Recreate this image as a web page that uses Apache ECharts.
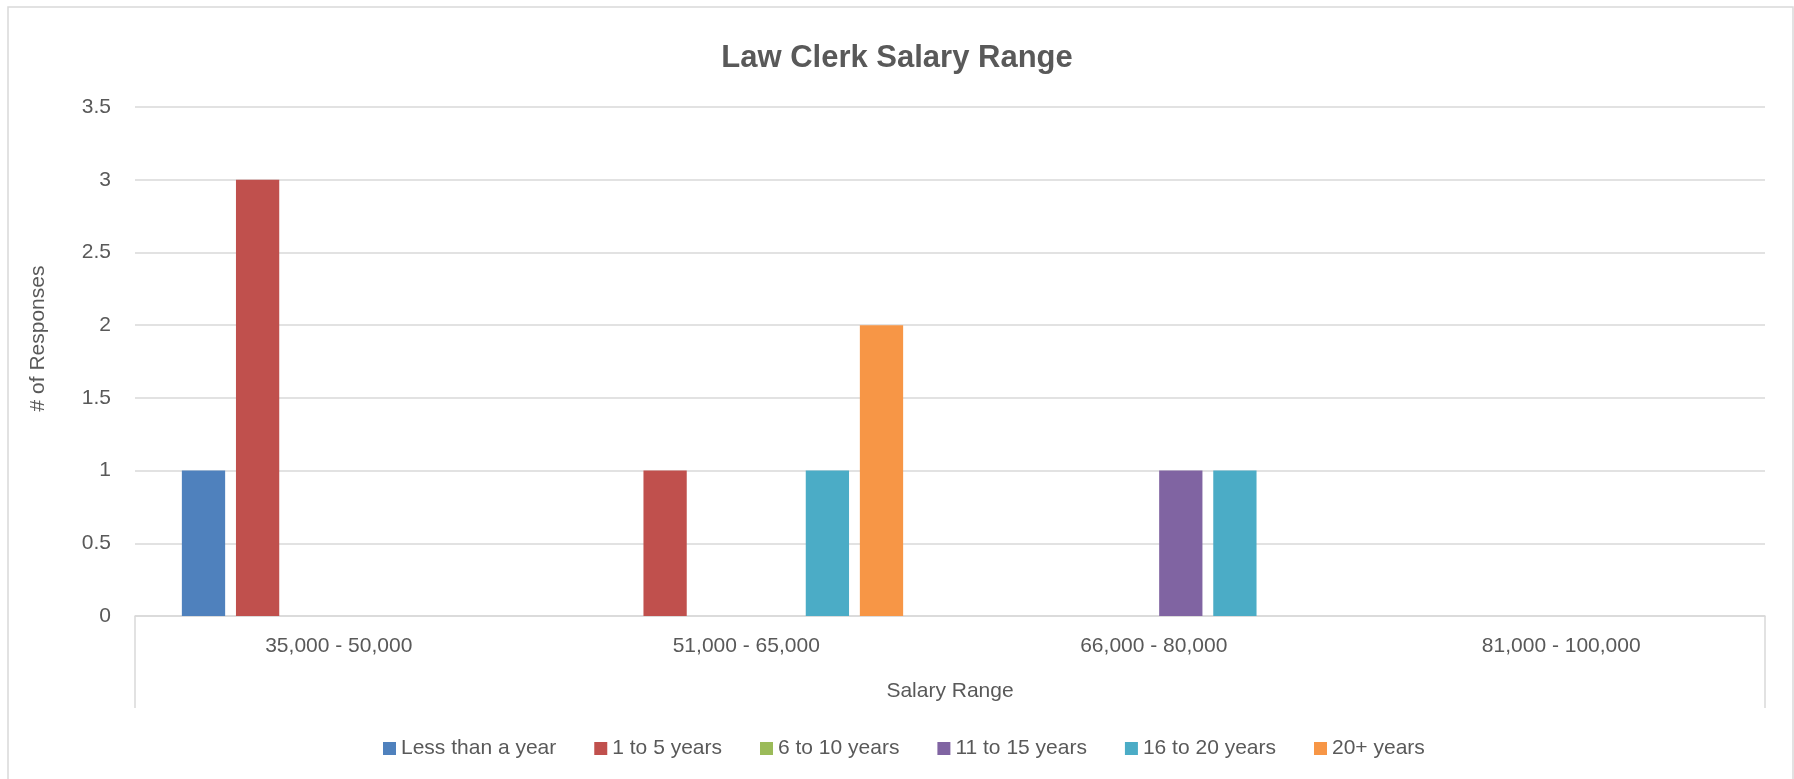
<!DOCTYPE html>
<html>
<head>
<meta charset="utf-8">
<script src="https://cdn.jsdelivr.net/npm/echarts@6/dist/echarts.min.js"></script>
<style>html,body{margin:0;padding:0;background:#fff;}#c{width:1794px;height:779px;}</style>
</head>
<body>
<div id="c"></div>
<script>
const categories = ['35,000 - 50,000', '51,000 - 65,000', '66,000 - 80,000', '81,000 - 100,000'];
const seriesNames = ['Less than a year', '1 to 5 years', '6 to 10 years', '11 to 15 years', '16 to 20 years', '20+ years'];
const lessThanYear = [1, 0, 0, 0];
const oneToFive = [3, 1, 0, 0];
const sixToTen = [0, 0, 0, 0];
const elevenToFifteen = [0, 0, 1, 0];
const sixteenToTwenty = [0, 1, 1, 0];
const twentyPlus = [0, 2, 0, 0];
const yTicks = [0, 0.5, 1, 1.5, 2, 2.5, 3, 3.5];

const seriesValues = [lessThanYear, oneToFive, sixToTen, elevenToFifteen, sixteenToTwenty, twentyPlus];
const colors = ['#4F81BD', '#C0504D', '#9BBB59', '#8064A2', '#4BACC6', '#F79646'];
const FONT = '"Liberation Sans", Arial, sans-serif';
const TXT = '#595959';

const chart = echarts.init(document.getElementById('c'), null, {renderer: 'canvas'});
chart.setOption({
  animation: false,
  backgroundColor: '#fff',
  color: colors,
  textStyle: {fontFamily: FONT},
  title: {
    text: 'Law Clerk Salary Range',
    left: 'center', top: 38,
    textStyle: {fontFamily: FONT, fontSize: 31, fontWeight: 'bold', color: TXT}
  },
  graphic: [{
    type: 'rect', silent: true,
    shape: {x: 8, y: 7, width: 1785, height: 800},
    style: {fill: 'none', stroke: '#d9d9d9', lineWidth: 1.5}
  }],
  grid: {left: 135, right: 29, top: 107, bottom: 163, containLabel: false},
  legend: {
    data: seriesNames,
    left: 378, top: 733,
    itemWidth: 13, itemHeight: 13, itemGap: 38,
    icon: 'rect',
    textStyle: {fontFamily: FONT, fontSize: 21, color: TXT}
  },
  xAxis: {
    type: 'category',
    data: categories,
    name: 'Salary Range',
    nameLocation: 'middle',
    nameGap: 65,
    nameTextStyle: {fontFamily: FONT, fontSize: 21, color: TXT},
    axisLine: {show: true, lineStyle: {color: '#d9d9d9', width: 1.5}},
    axisTick: {show: true, interval: function (i) { return i === 0; }, length: 92, lineStyle: {color: '#d9d9d9', width: 1.5}},
    axisLabel: {interval: 0, margin: 20, fontFamily: FONT, fontSize: 21, color: TXT},
    splitLine: {show: false}
  },
  yAxis: {
    type: 'value',
    min: yTicks[0], max: yTicks[yTicks.length - 1], interval: 0.5,
    name: '# of Responses',
    nameLocation: 'middle',
    nameGap: 86,
    nameTextStyle: {fontFamily: FONT, fontSize: 21, color: TXT, padding: [0, 0, 0, 46]},
    axisLine: {show: false},
    axisTick: {show: false},
    axisLabel: {margin: 24, fontFamily: FONT, fontSize: 21, color: TXT},
    splitLine: {lineStyle: {color: '#d9d9d9', width: 1.5}}
  },
  series: seriesNames.map((n, i) => ({
    name: n,
    type: 'bar',
    data: seriesValues[i],
    barGap: '25%',
    barCategoryGap: '23%',
    itemStyle: {color: colors[i]}
  }))
});
</script>
</body>
</html>
